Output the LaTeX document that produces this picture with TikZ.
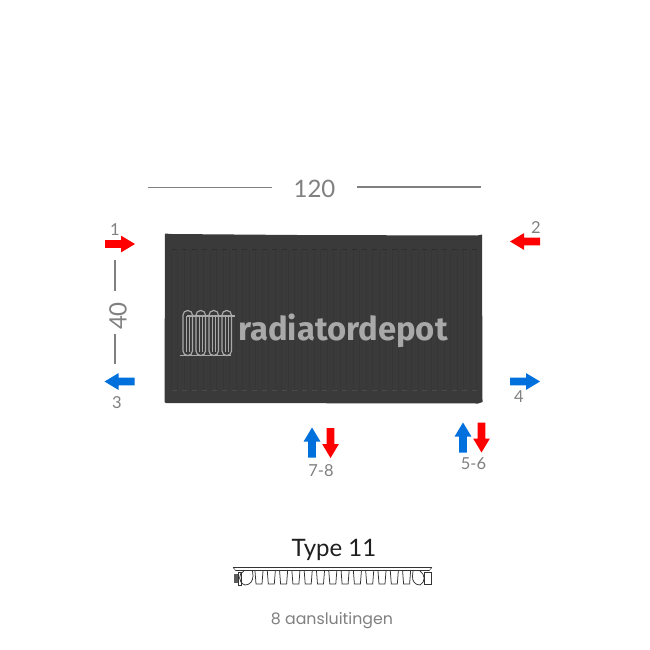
\documentclass[tikz,border=0pt]{standalone}
\usepackage{fontspec}
\setmainfont{Lato}
\newfontfamily\logofont{Fira Sans}
\newfontfamily\labelfont{Poppins}
\definecolor{dimgrey}{HTML}{808080}
\definecolor{panel}{HTML}{3A3A3A}
\definecolor{rib}{HTML}{363636}
\definecolor{ridge}{HTML}{2E2E2E}
\definecolor{logogrey}{HTML}{A9A9A9}
\definecolor{hot}{HTML}{FF0000}
\definecolor{cold}{HTML}{0070DC}
\definecolor{prof}{HTML}{333333}
\tikzset{
  dimline/.style={draw=dimgrey,line width=1.4pt},
  dimtext/.style={text=dimgrey,font=\fontsize{24}{24}\selectfont,inner sep=0pt},
  numtext/.style={text=dimgrey,font=\fontsize{16.5}{17}\selectfont,inner sep=0pt},
  logostroke/.style={draw=logogrey,line width=1.2pt},
  profline/.style={draw=prof,line width=.75pt},
}
% #1 origin, #2 rotation, #3 colour : block arrow pointing in +x, 30 long
\newcommand{\blockarrow}[3]{%
  \fill[#3,shift={(#1)},rotate=#2] (0,-3.9) -- (16,-3.9) -- (16,-8.4) -- (30,0) -- (16,8.4) -- (16,3.9) -- (0,3.9) -- cycle;}
\begin{document}
\begin{tikzpicture}[x=1pt,y=-1pt]
\useasboundingbox (0,0) rectangle (650,650);
\fill[white] (0,0) rectangle (650,650);
% dimensions
\coordinate (t1a) at (148,187.5); \coordinate (t1b) at (272,187.5);
\coordinate (t2a) at (357,187); \coordinate (t2b) at (481,187);
\draw[dimline] (t1a) -- (t1b);
\draw[dimline] (t2a) -- (t2b);
\node[dimtext] (w) at (314.5,188.5) {120};
\coordinate (l1a) at (115,260); \coordinate (l1b) at (115,291);
\coordinate (l2a) at (115,334); \coordinate (l2b) at (115,364);
\draw[dimline] (l1a) -- (l1b);
\draw[dimline] (l2a) -- (l2b);
\node[dimtext,rotate=90] (h) at (118,316) {40};
% panel
\fill[panel] (165,233.5) -- (171,234) -- (297,235) -- (477,235.5) -- (482,234.5) -- (482.5,402) -- (478,403.5) -- (180,403) -- (166,403) -- (164.5,402) -- cycle;
\foreach \x in {171,177.5,...,478}{\draw[rib,line width=.6pt] (\x,250) -- (\x,391);}
\draw[ridge,line width=.9pt,dash pattern=on 5pt off 5pt] (172,249) -- (478,249);
\draw[panel!92!white,line width=.9pt,dash pattern=on 5pt off 5pt] (172,390) -- (478,390);
% logo
\begin{scope}[logostroke]
  \foreach \x in {183,196,209,222}{
    \draw[rounded corners=4.6pt] (\x,310.5) rectangle (\x+9.5,355.5);
    \draw (\x+3.2,316) -- (\x+3.2,352);
    \draw (\x+6.4,316) -- (\x+6.4,352);
  }
  \draw (187,316) -- (235,316);
  \draw (179.5,355.5) -- (231,355.5);
\end{scope}
\node[text=logogrey,font=\logofont\bfseries\fontsize{32.8}{33}\selectfont,inner sep=0pt,anchor=base west] (logo) at (238,340) {radiatordepot};
% arrows
\blockarrow{105,244}{0}{hot}
\blockarrow{540,241.5}{180}{hot}
\blockarrow{134.5,381.5}{180}{cold}
\blockarrow{510,381.5}{0}{cold}
\blockarrow{312,457.5}{90}{cold}
\blockarrow{330.5,428}{-90}{hot}
\blockarrow{463,452.5}{90}{cold}
\blockarrow{481.5,422.5}{-90}{hot}
% numbers
\node[numtext] (n1) at (115,230) {1};
\node[numtext] (n2) at (536,228) {2};
\node[numtext] (n3) at (117,402.5) {3};
\node[numtext] (n4) at (519,397) {4};
\node[numtext] (n78) at (321,470.5) {7-8};
\node[numtext] (n56) at (473.5,464) {5-6};
% type
\node[text=black!88,font=\fontsize{24}{24}\selectfont,inner sep=0pt] (type) at (334,549.5) {Type 11};
\begin{scope}[profline]
  \draw[line width=.6pt] (233,567.5) -- (432,567.5);
  \draw[line width=1pt] (236,570.7) -- (429,570.7);
  \draw[line width=.5pt] (233,567.5) -- (236,570.7);
  \draw[line width=.5pt] (432,567.5) -- (429,570.7);
  % left end
  \fill[prof!80!white] (233.5,574) rectangle (238,583);
  \draw (238,572) rectangle (241,585);
  \draw (244,571) .. controls (238,573) and (238,583) .. (245,585) .. controls (250,585) and (253,581) .. (253,576) -- (252.5,571);
  \foreach \x in {255,267.3,...,403}{
    \draw (\x,571) -- (\x+1,584) -- (\x+7,584) -- (\x+8,571);
  }
  % right end
  \draw (420,571) .. controls (425,574) and (426,582) .. (420,585) .. controls (415,585) and (412,581) .. (412.5,576) -- (413,571);
  \draw (424,572) rectangle (431,584);
\end{scope}
\node[text=dimgrey,font=\labelfont\fontsize{15.8}{16}\selectfont,inner sep=0pt] (conn) at (332,620.5) {8 aansluitingen};
\end{tikzpicture}
\end{document}
